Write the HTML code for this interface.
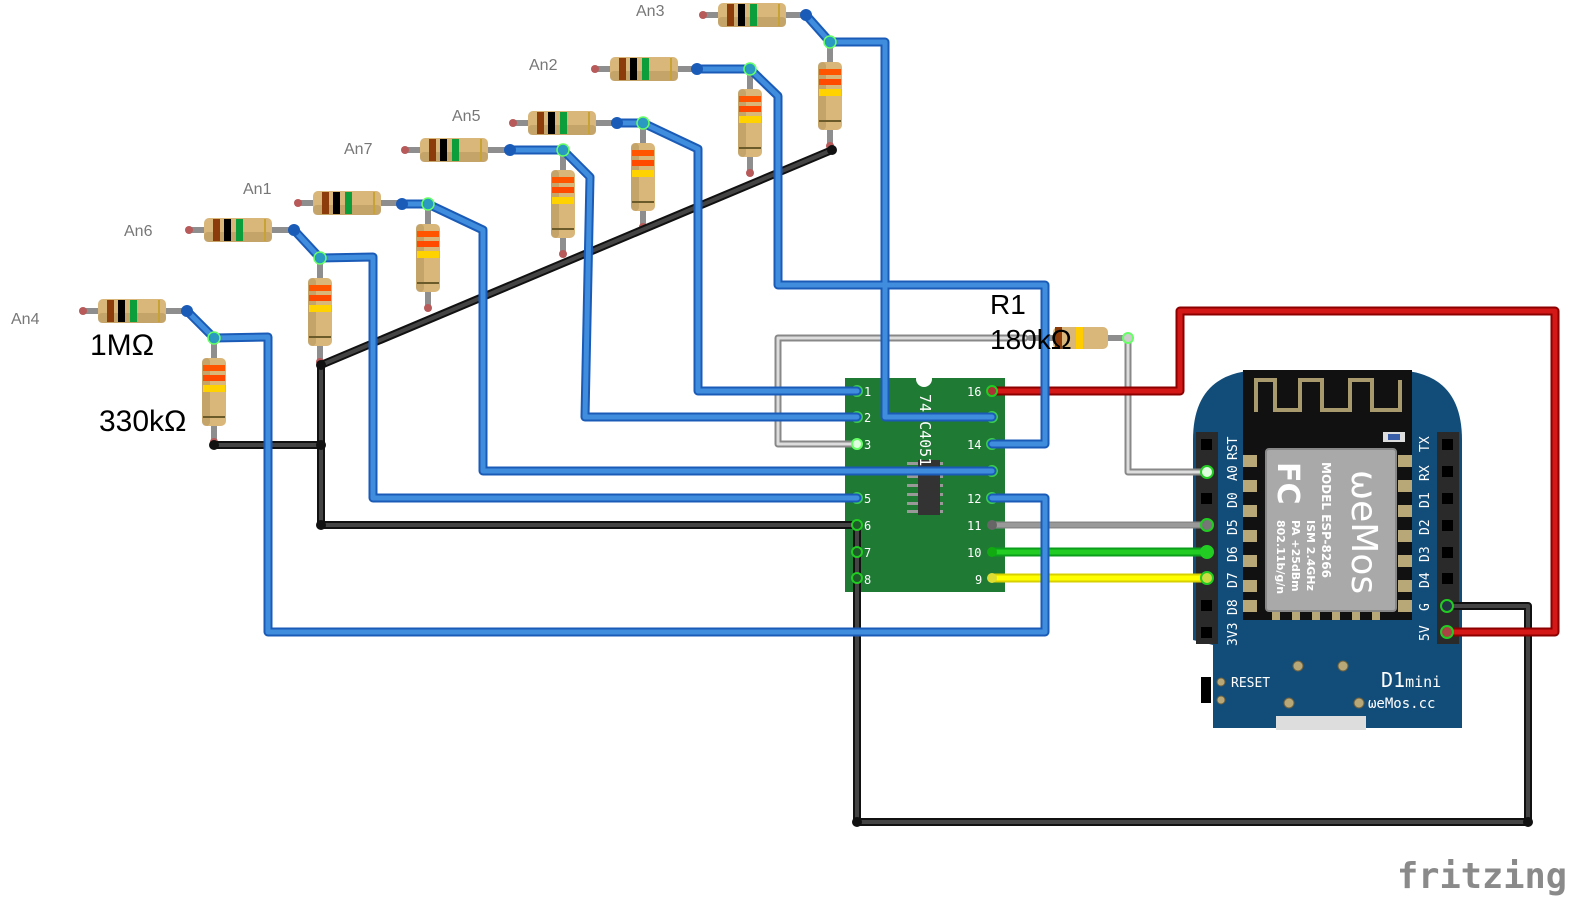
<!DOCTYPE html>
<html><head><meta charset="utf-8"><style>
html,body{margin:0;padding:0;background:#fff;}
svg{display:block;}
.lbl{font-family:"Liberation Sans",sans-serif;font-size:16px;fill:#777;}
.big{font-family:"Liberation Sans",sans-serif;font-size:30px;fill:#000;}
.pin{font-family:"DejaVu Sans Mono","Liberation Mono",monospace;font-size:12px;fill:#fff;}
.bt{font-family:"DejaVu Sans Mono","Liberation Mono",monospace;font-size:13px;fill:#fff;}
.sh{font-family:"DejaVu Sans","Liberation Sans",sans-serif;font-weight:bold;fill:#fff;}
</style></head><body>
<svg width="1575" height="906" viewBox="0 0 1575 906" xmlns="http://www.w3.org/2000/svg">
<defs>
<g id="rh">
  <line x1="0" y1="0" x2="105" y2="0" stroke="#8e8e8e" stroke-width="6"/>
  <circle cx="3" cy="0" r="4" fill="#b85a5a"/>
  <rect x="18" y="-12" width="68" height="24" rx="5" fill="#d9b67a"/>
  <rect x="18" y="2" width="68" height="10" rx="4" fill="#b8975e" opacity="0.6"/>
  <rect x="27" y="-11" width="7" height="22" fill="#8b3c0a"/>
  <rect x="38" y="-11" width="7" height="22" fill="#000"/>
  <rect x="50" y="-11" width="7" height="22" fill="#0b9e3a"/>
  <rect x="78" y="-11" width="2" height="22" fill="#c7a334"/>
</g>
<g id="rv">
  <line x1="0" y1="0" x2="0" y2="107" stroke="#8e8e8e" stroke-width="6"/>
  <circle cx="0" cy="104" r="4" fill="#b85a5a"/>
  <rect x="-12" y="20" width="24" height="68" rx="5" fill="#d9b67a"/>
  <rect x="-12" y="20" width="8" height="68" rx="4" fill="#b8975e" opacity="0.6"/>
  <rect x="-11" y="27" width="22" height="6" fill="#ff5500"/>
  <rect x="-11" y="37" width="22" height="6" fill="#ff4a00"/>
  <rect x="-11" y="47" width="22" height="7" fill="#ffd200"/>
  <rect x="-11" y="78" width="22" height="2" fill="#6b5a2a"/>
</g>
</defs>

<use href="#rh" x="80" y="311"/>
<use href="#rh" x="186" y="230"/>
<use href="#rh" x="295" y="203"/>
<use href="#rh" x="402" y="150"/>
<use href="#rh" x="510" y="123"/>
<use href="#rh" x="592" y="69"/>
<use href="#rh" x="700" y="15"/>
<use href="#rv" x="214" y="338"/>
<use href="#rv" x="320" y="258"/>
<use href="#rv" x="428" y="204"/>
<use href="#rv" x="563" y="150"/>
<use href="#rv" x="643" y="123"/>
<use href="#rv" x="750" y="69"/>
<use href="#rv" x="830" y="42"/>

<text class="lbl" x="11" y="324">An4</text>
<text class="lbl" x="124" y="236">An6</text>
<text class="lbl" x="243" y="194">An1</text>
<text class="lbl" x="344" y="154">An7</text>
<text class="lbl" x="452" y="121">An5</text>
<text class="lbl" x="529" y="70">An2</text>
<text class="lbl" x="636" y="16">An3</text>
<text class="big" x="90" y="355">1MΩ</text>
<text class="big" x="99" y="431">330kΩ</text>

<rect x="845" y="378" width="160" height="214" fill="#1f7a34"/>
<circle cx="924" cy="379" r="8" fill="#fff"/>
<g fill="#999">
  <rect x="907" y="462" width="36" height="3"/><rect x="907" y="475" width="36" height="3"/>
  <rect x="907" y="484" width="36" height="3"/><rect x="907" y="493" width="36" height="3"/>
  <rect x="907" y="502" width="36" height="3"/><rect x="907" y="510" width="36" height="3"/>
</g>
<rect x="918" y="460" width="22" height="55" fill="#333"/>
<text class="pin" transform="translate(920,394) rotate(90)" style="font-size:15px">74HC4051</text>
<g class="pin">
<text x="864" y="396">1</text><text x="864" y="422">2</text><text x="864" y="449">3</text>
<text x="864" y="503">5</text><text x="864" y="530">6</text><text x="864" y="557">7</text><text x="864" y="584">8</text>
<text x="967" y="396">16</text><text x="967" y="449">14</text><text x="967" y="503">12</text>
<text x="967" y="530">11</text><text x="967" y="557">10</text><text x="975" y="584">9</text>
</g>
<g fill="#2b9d7a" stroke="#3ccc50" stroke-width="2">
<circle cx="857" cy="391" r="5"/><circle cx="857" cy="417" r="5"/><circle cx="857" cy="498" r="5"/>
<circle cx="992" cy="417" r="5"/><circle cx="992" cy="444" r="5"/><circle cx="992" cy="471" r="5"/><circle cx="992" cy="498" r="5"/>
</g>

<path d="M1193 440 Q1193 370 1263 370 L1392 370 Q1462 370 1462 440 L1462 728 L1213 728 L1213 645 L1193 640 Z" fill="#124d7a"/>
<rect x="1243" y="370" width="169" height="75" fill="#111"/>
<path d="M1256 412 L1256 380 L1275 380 L1275 410 L1300 410 L1300 380 L1322 380 L1322 410 L1350 410 L1350 380 L1372 380 L1372 410 L1400 410 L1400 380" fill="none" stroke="#a89a6c" stroke-width="4"/>
<rect x="1243" y="440" width="169" height="180" fill="#111"/>
<rect x="1383" y="432" width="22" height="10" fill="#ddd"/><rect x="1388" y="434" width="12" height="6" fill="#3a5fa8"/>
<g fill="#b9a877">
<rect x="1243" y="455" width="14" height="12"/><rect x="1243" y="480" width="14" height="12"/><rect x="1243" y="505" width="14" height="12"/><rect x="1243" y="530" width="14" height="12"/><rect x="1243" y="555" width="14" height="12"/><rect x="1243" y="580" width="14" height="12"/><rect x="1243" y="600" width="14" height="12"/>
<rect x="1398" y="455" width="14" height="12"/><rect x="1398" y="480" width="14" height="12"/><rect x="1398" y="505" width="14" height="12"/><rect x="1398" y="530" width="14" height="12"/><rect x="1398" y="555" width="14" height="12"/><rect x="1398" y="580" width="14" height="12"/><rect x="1398" y="600" width="14" height="12"/>
<rect x="1272" y="612" width="8" height="8"/><rect x="1292" y="612" width="8" height="8"/><rect x="1312" y="612" width="8" height="8"/><rect x="1332" y="612" width="8" height="8"/><rect x="1352" y="612" width="8" height="8"/><rect x="1372" y="612" width="8" height="8"/>
</g>
<rect x="1266" y="449" width="130" height="162" rx="3" fill="#a9a9a9" stroke="#888" stroke-width="2"/>
<text class="sh" transform="translate(1352,470) rotate(90)" style="font-size:36px;font-weight:normal">ωeMos</text>
<text class="sh" transform="translate(1322,462) rotate(90)" style="font-size:12px">MODEL ESP-8266</text>
<text class="sh" transform="translate(1307,520) rotate(90)" style="font-size:11px">ISM 2.4GHz</text>
<text class="sh" transform="translate(1292,520) rotate(90)" style="font-size:11px">PA +25dBm</text>
<text class="sh" transform="translate(1277,520) rotate(90)" style="font-size:11px">802.11b/g/n</text>
<text class="sh" transform="translate(1278,462) rotate(90)" style="font-size:30px">FC</text>
<rect x="1196" y="432" width="22" height="212" fill="#2a2a2a"/>
<rect x="1437" y="432" width="22" height="212" fill="#2a2a2a"/>
<g fill="#000">
<rect x="1201" y="439" width="11" height="11"/><rect x="1201" y="493" width="11" height="11"/><rect x="1201" y="600" width="11" height="11"/><rect x="1201" y="627" width="11" height="11"/>
<rect x="1442" y="439" width="11" height="11"/><rect x="1442" y="466" width="11" height="11"/><rect x="1442" y="493" width="11" height="11"/><rect x="1442" y="520" width="11" height="11"/><rect x="1442" y="547" width="11" height="11"/><rect x="1442" y="573" width="11" height="11"/>
</g>
<g class="bt">
<text transform="translate(1237,460) rotate(-90)">RST</text>
<text transform="translate(1237,481) rotate(-90)">A0</text>
<text transform="translate(1237,508) rotate(-90)">D0</text>
<text transform="translate(1237,535) rotate(-90)">D5</text>
<text transform="translate(1237,562) rotate(-90)">D6</text>
<text transform="translate(1237,588) rotate(-90)">D7</text>
<text transform="translate(1237,615) rotate(-90)">D8</text>
<text transform="translate(1237,646) rotate(-90)">3V3</text>
<text transform="translate(1429,452) rotate(-90)">TX</text>
<text transform="translate(1429,481) rotate(-90)">RX</text>
<text transform="translate(1429,508) rotate(-90)">D1</text>
<text transform="translate(1429,535) rotate(-90)">D2</text>
<text transform="translate(1429,562) rotate(-90)">D3</text>
<text transform="translate(1429,588) rotate(-90)">D4</text>
<text transform="translate(1429,611) rotate(-90)">G</text>
<text transform="translate(1429,641) rotate(-90)">5V</text>
<text x="1231" y="687" style="font-size:13px">RESET</text>
<text x="1381" y="687" style="font-size:20px">D1<tspan style="font-size:15px">mini</tspan></text>
<text x="1368" y="708" style="font-size:14px">ωeMos.cc</text>
</g>
<rect x="1201" y="677" width="10" height="26" fill="#000"/>
<g fill="#b9a877" stroke="#6b6040" stroke-width="1">
<circle cx="1221" cy="682" r="4"/><circle cx="1221" cy="700" r="4"/><circle cx="1298" cy="666" r="5"/><circle cx="1343" cy="666" r="5"/><circle cx="1289" cy="703" r="5"/><circle cx="1359" cy="703" r="5"/>
</g>
<rect x="1276" y="716" width="90" height="14" fill="#ddd"/>

<g fill="none" stroke-linejoin="round" stroke-linecap="round">
<g stroke="#888" stroke-width="7">
<polyline points="857,444 778,444 778,338 1025,338"/>
<polyline points="1128,338 1128,472 1207,472"/>
<polyline points="992,525 1207,525"/>
</g>
<g stroke="#ddd" stroke-width="3">
<polyline points="857,444 778,444 778,338 1025,338"/>
<polyline points="1128,338 1128,472 1207,472"/>
</g>
<polyline points="992,525 1207,525" stroke="#999" stroke-width="4"/>
<line x1="1030" y1="338" x2="1128" y2="338" stroke="#8e8e8e" stroke-width="6"/>
<rect x="1053" y="327" width="55" height="22" rx="5" fill="#d9b67a" stroke="none"/>
<rect x="1055" y="327" width="7" height="22" fill="#8b3c0a" stroke="none"/>
<rect x="1076" y="327" width="7" height="22" fill="#ffcc00" stroke="none"/>
<circle cx="1128" cy="338" r="5" fill="#ccc" stroke="#6f6" stroke-width="2"/>
<g stroke="#111" stroke-width="8">
<polyline points="832,150 321,365 321,525 857,525"/>
<polyline points="214,445 321,445"/>
<polyline points="857,525 857,822 1528,822 1528,606 1447,606"/>
</g>
<g stroke="#444" stroke-width="4">
<polyline points="832,150 321,365 321,525 857,525"/>
<polyline points="214,445 321,445"/>
<polyline points="857,525 857,822 1528,822 1528,606 1447,606"/>
</g>
<polyline points="992,391 1180,391 1180,311 1555,311 1555,632 1447,632" stroke="#8c0000" stroke-width="9"/>
<polyline points="992,391 1180,391 1180,311 1555,311 1555,632 1447,632" stroke="#d41818" stroke-width="5"/>
<polyline points="992,552 1207,552" stroke="#0b9e1c" stroke-width="9"/>
<polyline points="992,552 1207,552" stroke="#22cc22" stroke-width="5"/>
<polyline points="992,578 1207,578" stroke="#d8d000" stroke-width="9"/>
<polyline points="992,578 1207,578" stroke="#ffff00" stroke-width="5"/>
<g stroke="#1b5bb8" stroke-width="9">
<polyline points="187,311 214,338 268,337 268,632 1045,632 1045,498 992,498"/>
<polyline points="294,230 320,258 373,257 373,498 857,498"/>
<polyline points="402,204 428,204 483,230 483,471 992,471"/>
<polyline points="510,150 563,150 590,177 585,417 857,417"/>
<polyline points="617,123 643,123 698,149 698,391 857,391"/>
<polyline points="697,69 750,69 778,96 778,285 1045,285 1045,444 992,444"/>
<polyline points="806,15 830,42 885,42 885,417 992,417"/>
</g>
<g stroke="#3f8ddc" stroke-width="5">
<polyline points="187,311 214,338 268,337 268,632 1045,632 1045,498 992,498"/>
<polyline points="294,230 320,258 373,257 373,498 857,498"/>
<polyline points="402,204 428,204 483,230 483,471 992,471"/>
<polyline points="510,150 563,150 590,177 585,417 857,417"/>
<polyline points="617,123 643,123 698,149 698,391 857,391"/>
<polyline points="697,69 750,69 778,96 778,285 1045,285 1045,444 992,444"/>
<polyline points="806,15 830,42 885,42 885,417 992,417"/>
</g>
</g>
<g fill="#1b5bb8">
<circle cx="187" cy="311" r="6"/><circle cx="294" cy="230" r="6"/><circle cx="402" cy="204" r="6"/><circle cx="510" cy="150" r="6"/><circle cx="617" cy="123" r="6"/><circle cx="697" cy="69" r="6"/><circle cx="806" cy="15" r="6"/>
</g>
<g fill="#2a9ac0" stroke="#6f6" stroke-width="1.5">
<circle cx="214" cy="338" r="6"/><circle cx="320" cy="258" r="6"/><circle cx="428" cy="204" r="6"/><circle cx="563" cy="150" r="6"/><circle cx="643" cy="123" r="6"/><circle cx="750" cy="69" r="6"/><circle cx="830" cy="42" r="6"/>
</g>
<g fill="#111">
<circle cx="832" cy="150" r="5"/><circle cx="321" cy="365" r="5"/><circle cx="214" cy="445" r="5"/><circle cx="321" cy="445" r="5"/><circle cx="321" cy="525" r="5"/><circle cx="857" cy="822" r="5"/><circle cx="1528" cy="822" r="5"/>
</g>
<g fill="#1f5a2a" stroke="#2c2" stroke-width="2">
<circle cx="857" cy="525" r="5"/><circle cx="857" cy="552" r="5"/><circle cx="857" cy="578" r="5"/>
</g>
<circle cx="992" cy="391" r="5" fill="#a33" stroke="#2c2" stroke-width="2"/>
<circle cx="992" cy="525" r="5" fill="#666"/>
<circle cx="992" cy="552" r="5" fill="#1a1"/>
<circle cx="992" cy="578" r="5" fill="#dd3"/>
<g stroke="#2c2" stroke-width="2">
<circle cx="1207" cy="472" r="6" fill="#dfd"/><circle cx="1207" cy="525" r="6" fill="#777"/><circle cx="1207" cy="552" r="6" fill="#2c2"/><circle cx="1207" cy="578" r="6" fill="#cd4"/>
<circle cx="1447" cy="606" r="6" fill="#234"/><circle cx="1447" cy="632" r="6" fill="#a44"/>
</g>
<circle cx="857" cy="444" r="5" fill="#dfd" stroke="#6f6" stroke-width="2"/>

<text class="big" x="990" y="314" style="font-size:28px">R1</text>
<text class="big" x="990" y="349" style="font-size:28px">180kΩ</text>

<text x="1397" y="888" style="font-family:'DejaVu Sans Mono','Liberation Mono',monospace;font-size:36px;fill:#8a8a8a;font-weight:bold" textLength="170" lengthAdjust="spacingAndGlyphs">fritzing</text>
</svg>
</body></html>
